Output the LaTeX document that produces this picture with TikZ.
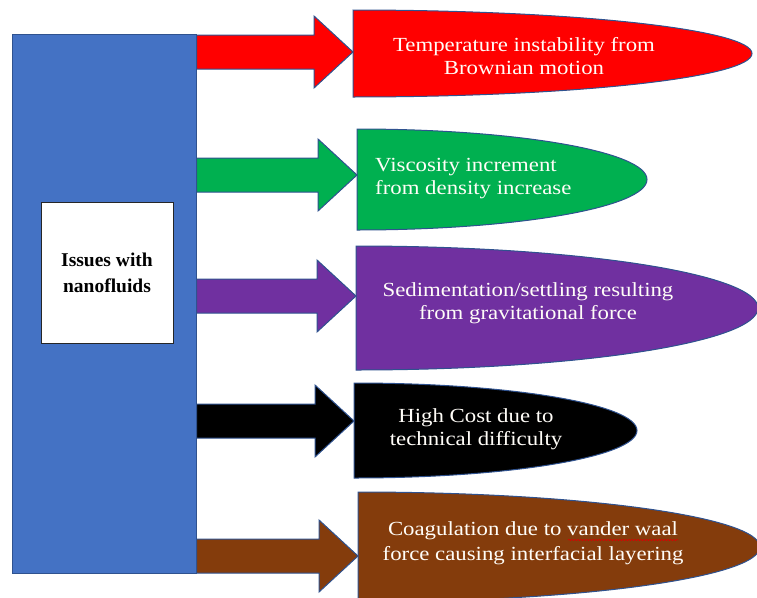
\documentclass[tikz,border=0pt]{standalone}
\usepackage{fontspec}
\setmainfont{Liberation Serif}
\newfontfamily\bodyfont[FakeStretch=1.14]{Liberation Serif}
\usetikzlibrary{calc,decorations.pathmorphing}
\definecolor{barblue}{HTML}{4472C4}
\definecolor{edgeblue}{HTML}{2F528F}
\definecolor{cred}{HTML}{FF0000}
\definecolor{cgreen}{HTML}{00B050}
\definecolor{cpurple}{HTML}{7030A0}
\definecolor{cblack}{HTML}{000000}
\definecolor{cbrown}{HTML}{843C0C}
\definecolor{txtcol}{HTML}{FFFDF8}
\newcommand\capsulepath[5]{% color, x0, cy, rx, ry
  \path[capsule, fill=#1] (#2,#3+#5) arc[start angle=90, end angle=-90, x radius=#4, y radius=#5] -- cycle;}
\newcommand\blockarr[2]{% tip coordinate, color
  \path[blockarrow, fill=#2] ($(bar.east |- #1)+(0,-17)$) -- ($(#1)+(-39,-17)$) -- ($(#1)+(-39,-36)$) -- (#1)
    -- ($(#1)+(-39,36)$) -- ($(#1)+(-39,17)$) -- ($(bar.east |- #1)+(0,17)$) -- cycle;}
\begin{document}
\begin{tikzpicture}[x=1pt,y=-1pt,
  outline/.style={draw=edgeblue, line width=1pt},
  blockarrow/.style={outline, line join=miter},
  capsule/.style={outline},
  itemtext/.style={text=txtcol, font=\bodyfont\fontsize{20}{23.5}\selectfont, inner sep=0pt, anchor=base},
]
\useasboundingbox (0,0) rectangle (757,597);
\clip (0,0) rectangle (757,597);

% main bar
\node[outline, fill=barblue, minimum width=184pt, minimum height=539pt, inner sep=0pt] (bar) at (104,303.5) {};
\node[draw=black!85, line width=0.8pt, fill=white, minimum width=132pt, minimum height=141pt, inner sep=0pt,
      align=center, font=\bfseries\fontsize{19.5}{26}\selectfont] (issues) at (107,272.5) {Issues with\\nanofluids};

% capsule shapes
\capsulepath{cred}{353}{53.5}{399}{43.5}
\capsulepath{cgreen}{357}{179.5}{290}{50.5}
\capsulepath{cpurple}{356}{308}{402}{62}
\capsulepath{cblack}{354}{430.5}{283}{47.5}
\capsulepath{cbrown}{358}{547}{402}{55}

% arrow targets on the capsules' left edges
\coordinate (inred) at (353,52);
\coordinate (ingreen) at (357,175);
\coordinate (inpurple) at (356,296);
\coordinate (inblack) at (354,421);
\coordinate (inbrown) at (358,556);

% block arrows
\blockarr{inred}{cred}
\blockarr{ingreen}{cgreen}
\blockarr{inpurple}{cpurple}
\blockarr{inblack}{cblack}
\blockarr{inbrown}{cbrown}

% texts (base anchor = baseline of the last line)
\node[itemtext, align=center] (t1) at (524,74.5) {Temperature instability from\\Brownian motion};
\node[itemtext, align=left, anchor=base west] (t2) at (375,194.5) {Viscosity increment\\from density increase};
\node[itemtext, align=center] (t3) at (528,319.5) {Sedimentation/settling resulting\\from gravitational force};
\node[itemtext, align=center] (t4) at (476,445.5) {High Cost due to\\technical difficulty};
\node[itemtext, font=\bodyfont\fontsize{20}{25}\selectfont, align=center] (t5) at (533,560) {Coagulation due to vander waal\\force causing interfacial layering};

% spell-check squiggle
\draw[red!85!black, line width=0.6pt, decorate, decoration={snake, amplitude=0.6pt, segment length=3pt}] (568,540) -- (678,540);
\end{tikzpicture}
\end{document}
